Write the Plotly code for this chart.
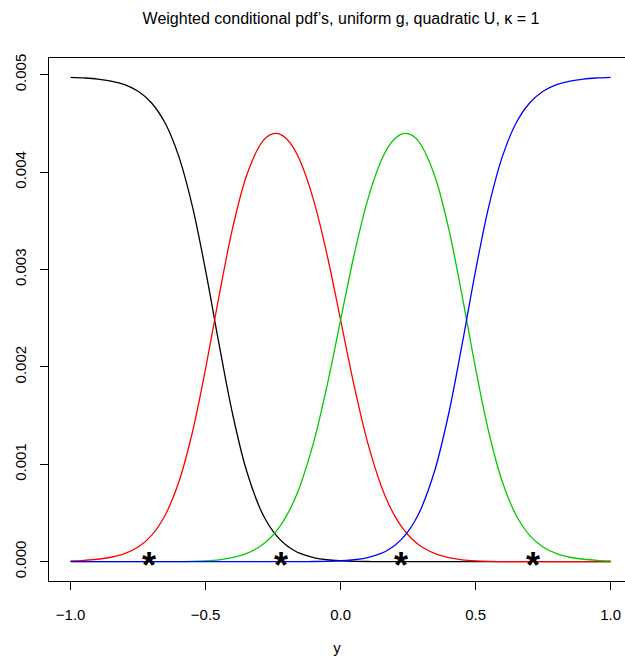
import plotly.graph_objects as go

y_grid = [-1.00, -0.95, -0.90, -0.85, -0.80, -0.75, -0.70, -0.65, -0.60, -0.55,
          -0.50, -0.45, -0.40, -0.35, -0.30, -0.275, -0.25, -0.225, -0.20, -0.175,
          -0.15, -0.10, -0.05, 0.00, 0.05, 0.10, 0.15, 0.175, 0.20, 0.225,
          0.25, 0.275, 0.30, 0.35, 0.40, 0.45, 0.50, 0.55, 0.60, 0.65,
          0.70, 0.75, 0.80, 0.85, 0.90, 0.95, 1.00]

pdf_black = [0.004973, 0.004967, 0.004956, 0.004935, 0.004898, 0.004830, 0.004710, 0.004504, 0.004167, 0.003661,
             0.002989, 0.002231, 0.001516, 0.000948, 0.000556, 0.000417, 0.000310, 0.000228, 0.000166, 0.0001195,
             0.000085, 0.000042, 0.000019, 0.0000082, 0.0000033, 0.0000012, 0.0000004, 0.00000024, 0.00000014, 0.00000006,
             0, 0, 0, 0, 0, 0, 0, 0, 0, 0,
             0, 0, 0, 0, 0, 0, 0]

pdf_red = [0.0000072, 0.0000133, 0.0000245, 0.000045, 0.000082, 0.000150, 0.000270, 0.000476, 0.000812, 0.001316,
           0.001983, 0.002730, 0.003424, 0.003950, 0.004271, 0.004357, 0.004396, 0.004391, 0.004342, 0.004251,
           0.004116, 0.003713, 0.003149, 0.002482, 0.001808, 0.001224, 0.000779, 0.000609, 0.000472, 0.000361,
           0.000274, 0.000206, 0.000153, 0.0000812, 0.0000404, 0.0000185, 0.0000077, 0.0000029, 0.0000010, 0.00000035,
           0.0000001, 0, 0, 0, 0, 0, 0]

pdf_green = [0, 0, 0, 0, 0, 0, 0.0000001, 0.00000035, 0.0000010, 0.0000029,
             0.0000077, 0.0000185, 0.0000404, 0.0000812, 0.000153, 0.000206, 0.000274, 0.000361, 0.000472, 0.000609,
             0.000779, 0.001224, 0.001808, 0.002482, 0.003149, 0.003713, 0.004116, 0.004251, 0.004342, 0.004391,
             0.004396, 0.004357, 0.004271, 0.003950, 0.003424, 0.002730, 0.001983, 0.001316, 0.000812, 0.000476,
             0.000270, 0.000150, 0.000082, 0.000045, 0.0000245, 0.0000133, 0.0000072]

pdf_blue = [0, 0, 0, 0, 0, 0, 0, 0, 0, 0,
            0, 0, 0, 0, 0, 0, 0, 0.00000006, 0.00000014, 0.00000024,
            0.0000004, 0.0000012, 0.0000033, 0.0000082, 0.000019, 0.000042, 0.000085, 0.0001195, 0.000166, 0.000228,
            0.000310, 0.000417, 0.000556, 0.000948, 0.001516, 0.002231, 0.002989, 0.003661, 0.004167, 0.004504,
            0.004710, 0.004830, 0.004898, 0.004935, 0.004956, 0.004967, 0.004973]

star_x = [-0.711, -0.222, 0.222, 0.711]
star_y = [0, 0, 0, 0]

x_ticks = [-1.0, -0.5, 0.0, 0.5, 1.0]
x_ticklabels = ["\u22121.0", "\u22120.5", "0.0", "0.5", "1.0"]
y_ticks = [0.000, 0.001, 0.002, 0.003, 0.004, 0.005]
y_ticklabels = ["0.000", "0.001", "0.002", "0.003", "0.004", "0.005"]

series = [("black", pdf_black), ("#FF0000", pdf_red), ("#00CD00", pdf_green), ("#0000FF", pdf_blue)]

fig = go.Figure()
for col, vals in series:
    fig.add_trace(go.Scatter(x=y_grid, y=vals, mode="lines",
                             line=dict(color=col, width=1.3, shape="spline", smoothing=1.0),
                             showlegend=False, hoverinfo="skip"))

for sx, sy in zip(star_x, star_y):
    fig.add_annotation(x=sx, y=sy, xref="x", yref="y", text="<b>*</b>", showarrow=False,
                       xanchor="center", yanchor="middle", yshift=-4,
                       font=dict(family="Liberation Sans, Arial, sans-serif", size=36, color="black"))

W, H = 625, 664
L, R, T, B = 49, 0, 58, 83
px_per_x = 270.0
x_left = -1.08
x_right = x_left + (W - L - R) / px_per_x
fig.update_layout(
    width=W, height=H,
    margin=dict(l=L, r=R, t=T, b=B, pad=0),
    paper_bgcolor="white", plot_bgcolor="white",
    font=dict(family="Liberation Sans, Arial, sans-serif", size=15, color="black"),
    title=dict(text="Weighted conditional pdf\u2019s, uniform g, quadratic U, \u03ba = 1",
               x=341 / W, xanchor="center", y=1 - 18 / H, yanchor="middle",
               font=dict(size=16, color="black")),
    xaxis=dict(range=[x_left, x_right], tickmode="array", tickvals=x_ticks, ticktext=x_ticklabels,
               showgrid=False, zeroline=False, showline=True, linecolor="black", linewidth=1.2,
               mirror=True, ticks="outside", ticklen=8, tickwidth=1, tickcolor="black",
               ticklabelstandoff=12,
               title=dict(text="y", standoff=20, font=dict(size=15))),
    yaxis=dict(range=[-0.000199, 0.005172], tickmode="array", tickvals=y_ticks, ticktext=y_ticklabels,
               showgrid=False, zeroline=False, showline=True, linecolor="black", linewidth=1.2,
               mirror=False, ticks="outside", ticklen=8, tickwidth=1, tickcolor="black",
               tickangle=-90, ticklabelstandoff=8),
)
fig.write_html("out.html")
